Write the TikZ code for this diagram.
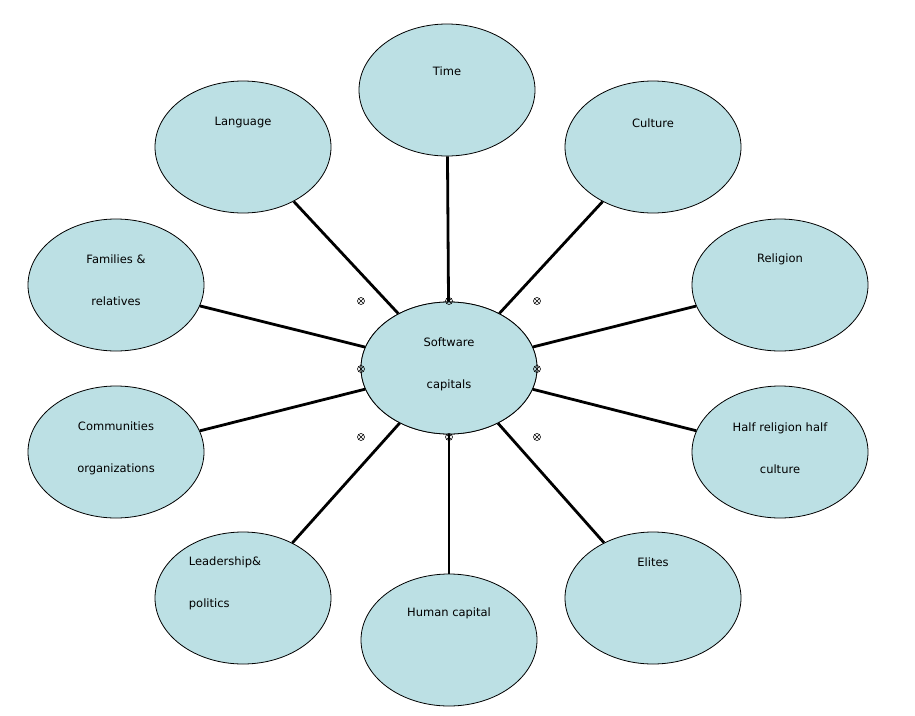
\documentclass[tikz,border=0pt]{standalone}
\usepackage{fontspec}
\setmainfont{DejaVu Sans}
\usetikzlibrary{shapes.geometric}
\definecolor{bub}{HTML}{BCE0E4}
\begin{document}
\begin{tikzpicture}[x=1pt,y=-1pt,
  bubble/.style={ellipse,draw=black,line width=0.8pt,fill=bub,minimum width=176pt,minimum height=132pt,inner sep=0pt},
  lbl/.style={font=\fontsize{11.5}{13}\selectfont,align=center},
  spoke/.style={line width=2.8pt},
  handle/.style={circle,draw=black,line width=0.6pt,inner sep=0pt,minimum size=7pt,path picture={\draw[line width=0.5pt] (path picture bounding box.south west)--(path picture bounding box.north east) (path picture bounding box.north west)--(path picture bounding box.south east);}}]
\useasboundingbox (0,0) rectangle (915,715);
\node[bubble] (time) at (447,90) {};
\node[bubble] (lang) at (243,147) {};
\node[bubble] (cult) at (653,147) {};
\node[bubble] (fam) at (116,285) {};
\node[bubble] (rel) at (780,285) {};
\node[bubble] (comm) at (116,452) {};
\node[bubble] (half) at (780,452) {};
\node[bubble] (lead) at (243,598) {};
\node[bubble] (elit) at (653,598) {};
\node[bubble] (hum) at (449,640) {};
\node[bubble] (c) at (449,368) {};
\foreach \n in {time,lang,cult,fam,rel,comm,half,lead,elit,hum}
  \draw[spoke] (c) -- (\n);
\node[bubble] at (449,368) {};
\node[lbl] (tc) at (449,364) {Software\\[29pt]capitals};
\node[lbl] (t1) at (447,71) {Time};
\node[lbl] (t2) at (243,123) {Language};
\node[lbl] (t3) at (653,123) {Culture};
\node[lbl] (t4) at (116,280) {Families \&\\[29pt]relatives};
\node[lbl] (t5) at (780,259) {Religion};
\node[lbl] (t6) at (116,448) {Communities\\[29pt]organizations};
\node[lbl] (t7) at (780,448) {Half religion half\\[29pt]culture};
\node[lbl,align=left] (t8) at (225,583) {Leadership\&\\[29pt]politics};
\node[lbl] (t9) at (653,562) {Elites};
\node[lbl] (t10) at (449,613) {Human capital};
\foreach \p [count=\i] in {(361,301),(449,301),(537,301),(361,369),(537,369),(361,437),(449,437),(537,437)}
  \node[handle] (h\i) at \p {};
\end{tikzpicture}
\end{document}
